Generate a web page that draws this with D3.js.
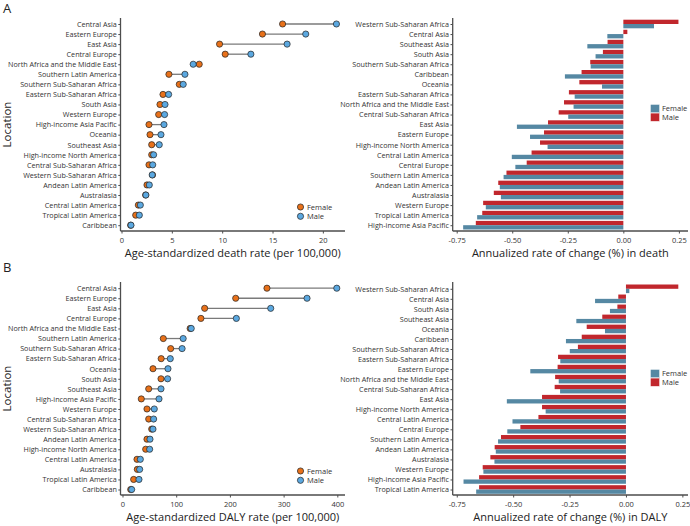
<!DOCTYPE html>
<html><head><meta charset="utf-8">
<script src="https://cdn.jsdelivr.net/npm/d3@7/dist/d3.min.js"></script>
<style>
body{margin:0;background:#fff;}
svg{font-family:"Open Sans",sans-serif;}
</style></head>
<body><svg id="c" width="690" height="526"></svg>
<script>
// ---------- DATA ----------
const deathRegions = ["Central Asia","Eastern Europe","East Asia","Central Europe","North Africa and the Middle East","Southern Latin America","Southern Sub-Saharan Africa","Eastern Sub-Saharan Africa","South Asia","Western Europe","High-income Asia Pacific","Oceania","Southeast Asia","High-income North America","Central Sub-Saharan Africa","Western Sub-Saharan Africa","Andean Latin America","Australasia","Central Latin America","Tropical Latin America","Caribbean"];
const deathFemale = [16.0,14.0,9.74,10.3,7.72,4.71,5.74,4.12,3.82,3.69,2.73,2.83,3.0,3.0,2.73,3.08,2.53,2.4,1.67,1.41,0.91];
const deathMale   = [21.35,18.3,16.45,12.85,7.12,6.3,6.13,4.68,4.32,4.28,4.22,3.92,3.75,3.19,3.1,3.05,2.76,2.42,1.87,1.77,0.94];

const dalyRegions = ["Central Asia","Eastern Europe","East Asia","Central Europe","North Africa and the Middle East","Southern Latin America","Southern Sub-Saharan Africa","Eastern Sub-Saharan Africa","Oceania","South Asia","Southeast Asia","High-income Asia Pacific","Western Europe","Central Sub-Saharan Africa","Western Sub-Saharan Africa","Andean Latin America","High-income North America","Central Latin America","Australasia","Tropical Latin America","Caribbean"];
const dalyFemale = [269,210.8,153,146,126,76,89.7,72,56.8,71.7,48.8,35,45.6,48.8,54.4,45.6,43.2,27,27.6,20.8,15.3];
const dalyMale   = [399,343.6,276,212,128,113,111,89,84.7,84,71.7,68,59.2,58,56.8,51.2,50.6,33.2,32,30.7,17.1];

const deathChangeRegions = ["Western Sub-Saharan Africa","Central Asia","Southeast Asia","South Asia","Southern Sub-Saharan Africa","Caribbean","Oceania","Eastern Sub-Saharan Africa","North Africa and the Middle East","Central Sub-Saharan Africa","East Asia","Eastern Europe","High-income North America","Central Latin America","Central Europe","Southern Latin America","Andean Latin America","Australasia","Western Europe","Tropical Latin America","High-income Asia Pacific"];
const deathChangeFemale = [0.138,-0.072,-0.162,-0.125,-0.147,-0.263,-0.096,-0.219,-0.224,-0.248,-0.479,-0.420,-0.341,-0.502,-0.486,-0.539,-0.556,-0.551,-0.619,-0.658,-0.721];
const deathChangeMale   = [0.248,0.018,-0.071,-0.092,-0.149,-0.188,-0.198,-0.245,-0.267,-0.291,-0.339,-0.357,-0.375,-0.413,-0.435,-0.526,-0.563,-0.583,-0.631,-0.635,-0.664];

const dalyChangeRegions = ["Western Sub-Saharan Africa","Central Asia","South Asia","Southeast Asia","Oceania","Caribbean","Southern Sub-Saharan Africa","Eastern Sub-Saharan Africa","Eastern Europe","North Africa and the Middle East","Central Sub-Saharan Africa","East Asia","High-income North America","Central Latin America","Central Europe","Southern Latin America","Andean Latin America","Australasia","Western Europe","High-income Asia Pacific","Tropical Latin America"];
const dalyChangeFemale = [0.015,-0.137,-0.071,-0.22,-0.093,-0.266,-0.249,-0.291,-0.424,-0.298,-0.292,-0.528,-0.356,-0.503,-0.526,-0.567,-0.577,-0.583,-0.632,-0.72,-0.664];
const dalyChangeMale   = [0.232,-0.034,-0.038,-0.105,-0.174,-0.196,-0.213,-0.301,-0.303,-0.314,-0.316,-0.372,-0.372,-0.388,-0.468,-0.554,-0.582,-0.601,-0.635,-0.651,-0.651];

const rateTicksDeath = [0,5,10,15,20];
const rateTicksDaly = [0,100,200,300,400];
const changeTicks = [-0.75,-0.5,-0.25,0,0.25];
const sexes = ["Female","Male"];

// ---------- STYLE ----------
const colFemalePt = "#E8711A", colMalePt = "#5BA8E0";
const colFemaleBar = "#5588A3", colMaleBar = "#C1272D";
const axisCol = "#4d4d4d", txtCol = "#333";
const svg = d3.select("#c");

function axes(g, x, y, ticks, fmt, left, right, top, bottom, title, titleY) {
  const xa = g.append("g").attr("transform", `translate(0,${bottom})`)
    .call(d3.axisBottom(x).tickValues(ticks).tickFormat(fmt).tickSize(2.5).tickSizeOuter(0));
  xa.select(".domain").attr("d", `M${left},0H${right}`).attr("stroke", axisCol).attr("stroke-width", 1.3);
  xa.selectAll(".tick line").attr("stroke", axisCol);
  xa.selectAll(".tick text").attr("fill", txtCol).attr("font-size", 7.5).attr("dy", "0.8em").attr("font-family", "Open Sans");
  const ya = g.append("g").attr("transform", `translate(${left},0)`)
    .call(d3.axisLeft(y).tickSize(2.2).tickSizeOuter(0).tickPadding(1.5));
  ya.select(".domain").attr("d", `M0,${top}V${bottom}`).attr("stroke", axisCol).attr("stroke-width", 1.3);
  ya.selectAll(".tick line").attr("stroke", axisCol);
  ya.selectAll(".tick text").attr("fill", txtCol).attr("font-size", 7.2).attr("font-family", "Open Sans");
  g.append("text").attr("x", (left + right) / 2).attr("y", titleY).attr("text-anchor", "middle")
    .attr("font-size", 11).attr("fill", "#222").text(title);
}

function dumbbell(regions, fem, male, ticks, domain, rowRange, top, bottom, title, titleY, legY) {
  const left = 120.5, right = 345;
  const g = svg.append("g");
  const x = d3.scaleLinear().domain(domain).range([left, right]);
  const y = d3.scalePoint().domain(regions).range(rowRange);
  axes(g, x, y, ticks, d3.format("d"), left, right, top, bottom, title, titleY);
  const rows = regions.map((r, i) => ({r, f: fem[i], m: male[i]}));
  g.append("g").selectAll("line").data(rows).join("line")
    .attr("x1", d => x(d.f)).attr("x2", d => x(d.m)).attr("y1", d => y(d.r)).attr("y2", d => y(d.r))
    .attr("stroke", "#7a7a7a").attr("stroke-width", 1.3);
  g.append("g").selectAll("circle").data(rows).join("circle")
    .attr("cx", d => x(d.f)).attr("cy", d => y(d.r)).attr("r", 3.1)
    .attr("fill", colFemalePt).attr("stroke", "#222").attr("stroke-width", 0.7);
  g.append("g").selectAll("circle").data(rows).join("circle")
    .attr("cx", d => x(d.m)).attr("cy", d => y(d.r)).attr("r", 3.1)
    .attr("fill", colMalePt).attr("stroke", "#222").attr("stroke-width", 0.7);
  const lg = g.append("g");
  sexes.forEach((s, i) => {
    lg.append("circle").attr("cx", 300.5).attr("cy", legY + i * 9.3).attr("r", 3.1)
      .attr("fill", i ? colMalePt : colFemalePt).attr("stroke", "#222").attr("stroke-width", 0.7);
    lg.append("text").attr("x", 307).attr("y", legY + i * 9.3).attr("dy", "0.35em")
      .attr("font-size", 7.5).attr("fill", txtCol).text(s);
  });
}

function bars(regions, fem, male, domain, rowRange, top, bottom, title, titleY, legY) {
  const left = 452.7, right = 688;
  const g = svg.append("g");
  const x = d3.scaleLinear().domain(domain).range([left, right]);
  const y = d3.scalePoint().domain(regions).range(rowRange);
  const bh = 4.3;
  const rows = regions.map((r, i) => ({r, f: fem[i], m: male[i]}));
  g.append("g").selectAll("rect").data(rows).join("rect")
    .attr("x", d => Math.min(x(0), x(d.m))).attr("width", d => Math.abs(x(d.m) - x(0)))
    .attr("y", d => y(d.r) - bh).attr("height", bh).attr("fill", colMaleBar);
  g.append("g").selectAll("rect").data(rows).join("rect")
    .attr("x", d => Math.min(x(0), x(d.f))).attr("width", d => Math.abs(x(d.f) - x(0)))
    .attr("y", d => y(d.r)).attr("height", bh).attr("fill", colFemaleBar);
  const fmt = v => (v < 0 ? "-" : "") + Math.abs(v).toFixed(2);
  axes(g, x, y, changeTicks, fmt, left, right, top, bottom, title, titleY);
  const lg = g.append("g");
  sexes.forEach((s, i) => {
    lg.append("rect").attr("x", 650.5).attr("y", legY + i * 8.6).attr("width", 9).attr("height", 8.2)
      .attr("fill", i ? colMaleBar : colFemaleBar).attr("stroke", "#fff").attr("stroke-width", 0.4);
    lg.append("text").attr("x", 662).attr("y", legY + i * 8.6 + 4.3).attr("dy", "0.35em")
      .attr("font-size", 7.5).attr("fill", txtCol).text(s);
  });
}

// Panel A
dumbbell(deathRegions, deathFemale, deathMale, rateTicksDeath, [-0.1, 22.2], [24, 225.2], 18, 231,
  "Age-standardized death rate (per 100,000)", 257, 207);
bars(deathChangeRegions, deathChangeFemale, deathChangeMale, [-0.768, 0.291], [24, 225.2], 18, 231,
  "Annualized rate of change (%) in death", 257, 104.5);
// Panel B
dumbbell(dalyRegions, dalyFemale, dalyMale, rateTicksDaly, [-3.7, 414.3], [288.2, 489.5], 282, 495,
  "Age-standardized DALY rate (per 100,000)", 521, 471);
bars(dalyChangeRegions, dalyChangeFemale, dalyChangeMale, [-0.768, 0.275], [288.8, 489.5], 282, 495,
  "Annualized rate of change (%) in DALY", 521, 369.5);

svg.append("text").attr("x", 3).attr("y", 12.5).attr("font-size", 13).attr("fill", "#222").text("A");
svg.append("text").attr("x", 3).attr("y", 271.5).attr("font-size", 13).attr("fill", "#222").text("B");
[124.5, 388.5].forEach(cy => {
  svg.append("text").attr("transform", `translate(11,${cy}) rotate(-90)`).attr("text-anchor", "middle")
    .attr("font-size", 11.5).attr("fill", "#222").text("Location");
});
</script></body></html>
